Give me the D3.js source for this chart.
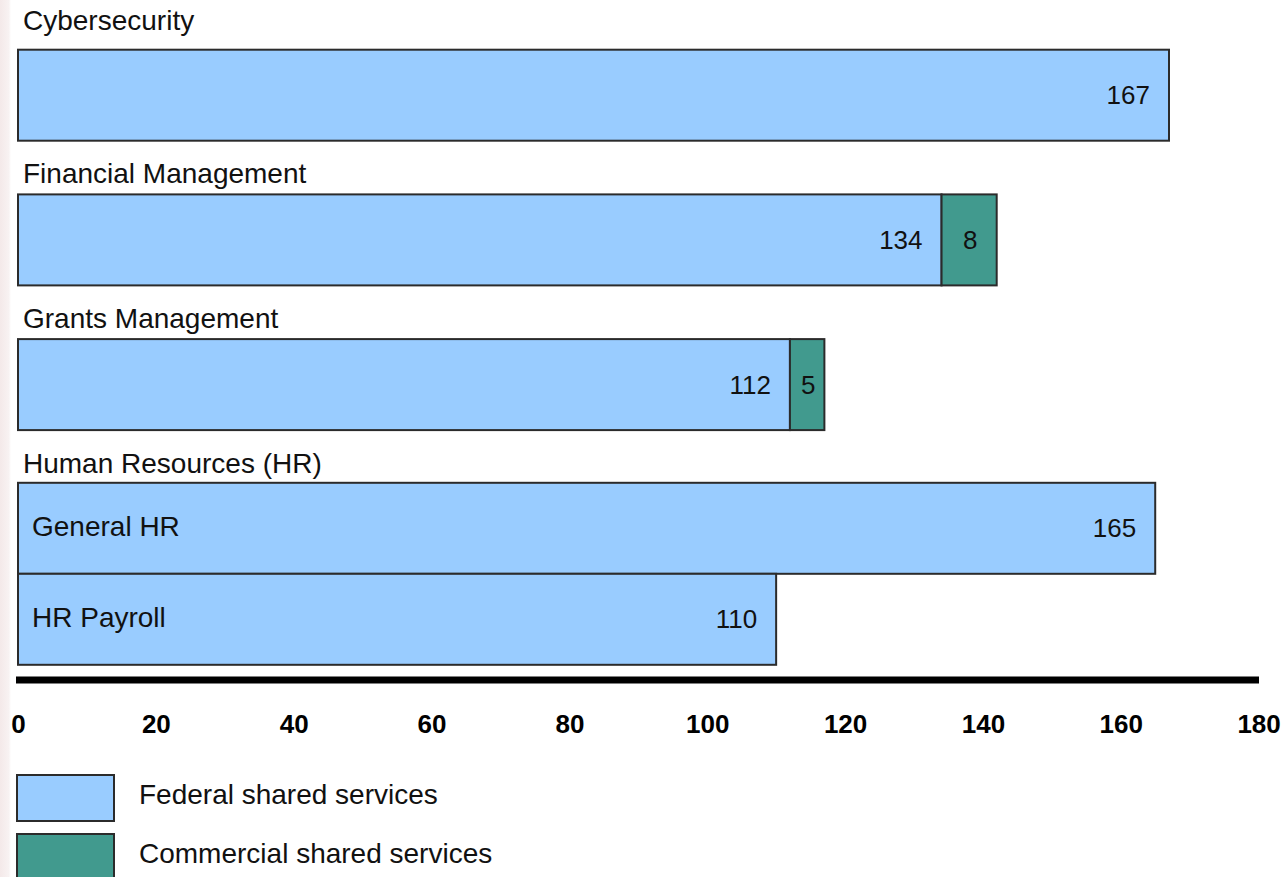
<!DOCTYPE html>
<html>
<head>
<meta charset="utf-8">
<script src="https://cdn.jsdelivr.net/npm/d3@7"></script>
<style>
  html, body { margin: 0; padding: 0; background: #ffffff; }
  svg { display: block; font-family: "Liberation Sans", Arial, sans-serif; }
</style>
</head>
<body>
<svg id="chart" width="1285" height="877"></svg>
<script>
// ---- data ----
const groups = ["Cybersecurity", "Financial Management", "Grants Management", "Human Resources (HR)"];
const rowGroup = ["Cybersecurity", "Financial Management", "Grants Management", "Human Resources (HR)", "Human Resources (HR)"];
const rowSubLabels = ["", "", "", "General HR", "HR Payroll"];
const federalValues = [167, 134, 112, 165, 110];
const commercialValues = [0, 8, 5, 0, 0];
const seriesNames = ["Federal shared services", "Commercial shared services"];
const tickValues = [0, 20, 40, 60, 80, 100, 120, 140, 160, 180];

// ---- layout ----
const W = 1285, H = 877;
const colors = ["#99CCFF", "#419A8E"];
const stroke = "#2b2b2b";
const svg = d3.select("#chart");

// faint left edge tint
const defs = svg.append("defs");
const grad = defs.append("linearGradient").attr("id", "edge").attr("x1", 0).attr("x2", 1);
grad.append("stop").attr("offset", 0).attr("stop-color", "#f4e9e9");
grad.append("stop").attr("offset", 0.8).attr("stop-color", "#f8f2f2");
grad.append("stop").attr("offset", 1).attr("stop-color", "#ffffff");
svg.append("rect").attr("x", 0).attr("y", 0).attr("width", 11).attr("height", H).attr("fill", "url(#edge)");

const x = d3.scaleLinear().domain([0, 180]).range([18, 1258.6]);

// vertical layout: each group gets a slot; HR has two stacked rows
const groupTop = d3.scaleLinear().domain([0, 1]).range([49.7, 49.7 + 144.7]);
const rowH = 91;
const rows = federalValues.map((v, i) => {
  const gi = groups.indexOf(rowGroup[i]);
  const within = rowGroup.slice(0, i).filter(g => g === rowGroup[i]).length;
  return {
    group: rowGroup[i], gi, sub: rowSubLabels[i],
    fed: v, com: commercialValues[i],
    top: groupTop(gi) + within * rowH - (gi === 3 ? 1 : 0)
  };
});

// group labels
svg.append("g").selectAll("text").data(groups).join("text")
  .attr("x", 23)
  .attr("y", (d, i) => groupTop(i) - (i === 0 ? 20 : 11))
  .attr("font-size", 28)
  .attr("fill", "#111")
  .text(d => d);

const rowG = svg.append("g").selectAll("g").data(rows).join("g");

// federal bars
rowG.append("rect")
  .attr("x", x(0))
  .attr("y", d => d.top)
  .attr("width", d => x(d.fed) - x(0))
  .attr("height", rowH)
  .attr("fill", colors[0])
  .attr("stroke", stroke).attr("stroke-width", 2);

// commercial bars
rowG.filter(d => d.com > 0).append("rect")
  .attr("x", d => x(d.fed))
  .attr("y", d => d.top)
  .attr("width", d => x(d.fed + d.com) - x(d.fed))
  .attr("height", rowH)
  .attr("fill", colors[1])
  .attr("stroke", stroke).attr("stroke-width", 2);

// federal value labels
rowG.append("text")
  .attr("x", d => x(d.fed) - 19)
  .attr("y", d => d.top + rowH / 2 + 9)
  .attr("text-anchor", "end")
  .attr("font-size", 26)
  .attr("fill", "#111")
  .text(d => d.fed);

// commercial value labels
rowG.filter(d => d.com > 0).append("text")
  .attr("x", d => (x(d.fed) + x(d.fed + d.com)) / 2 + 1)
  .attr("y", d => d.top + rowH / 2 + 9)
  .attr("text-anchor", "middle")
  .attr("font-size", 26)
  .attr("fill", "#111")
  .text(d => d.com);

// sub labels (HR rows)
rowG.filter(d => d.sub !== "").append("text")
  .attr("x", 32)
  .attr("y", d => d.top + rowH / 2 + 8)
  .attr("font-size", 28)
  .attr("fill", "#111")
  .text(d => d.sub);

// axis
const axisY = 680;
const axis = d3.axisBottom(x).tickValues(tickValues).tickSize(0).tickPadding(0).tickFormat(d3.format("d"));
const ax = svg.append("g").attr("transform", `translate(0,${axisY})`).call(axis);
ax.select(".domain").remove();
ax.append("line").attr("x1", 16).attr("x2", 1259).attr("y1", 0).attr("y2", 0)
  .attr("stroke", "#000").attr("stroke-width", 7);
ax.selectAll(".tick text")
  .attr("y", 53).attr("dy", null)
  .attr("font-size", 26).attr("font-weight", "bold")
  .attr("font-family", "'Liberation Sans', Arial, sans-serif")
  .attr("fill", "#000");

// legend
const legend = svg.append("g").selectAll("g").data(seriesNames).join("g")
  .attr("transform", (d, i) => `translate(17,${775 + i * 59})`);
legend.append("rect")
  .attr("width", 97).attr("height", 46)
  .attr("fill", (d, i) => colors[i])
  .attr("stroke", stroke).attr("stroke-width", 2);
legend.append("text")
  .attr("x", 122).attr("y", 29)
  .attr("font-size", 28).attr("fill", "#111")
  .text(d => d);
</script>
</body>
</html>
